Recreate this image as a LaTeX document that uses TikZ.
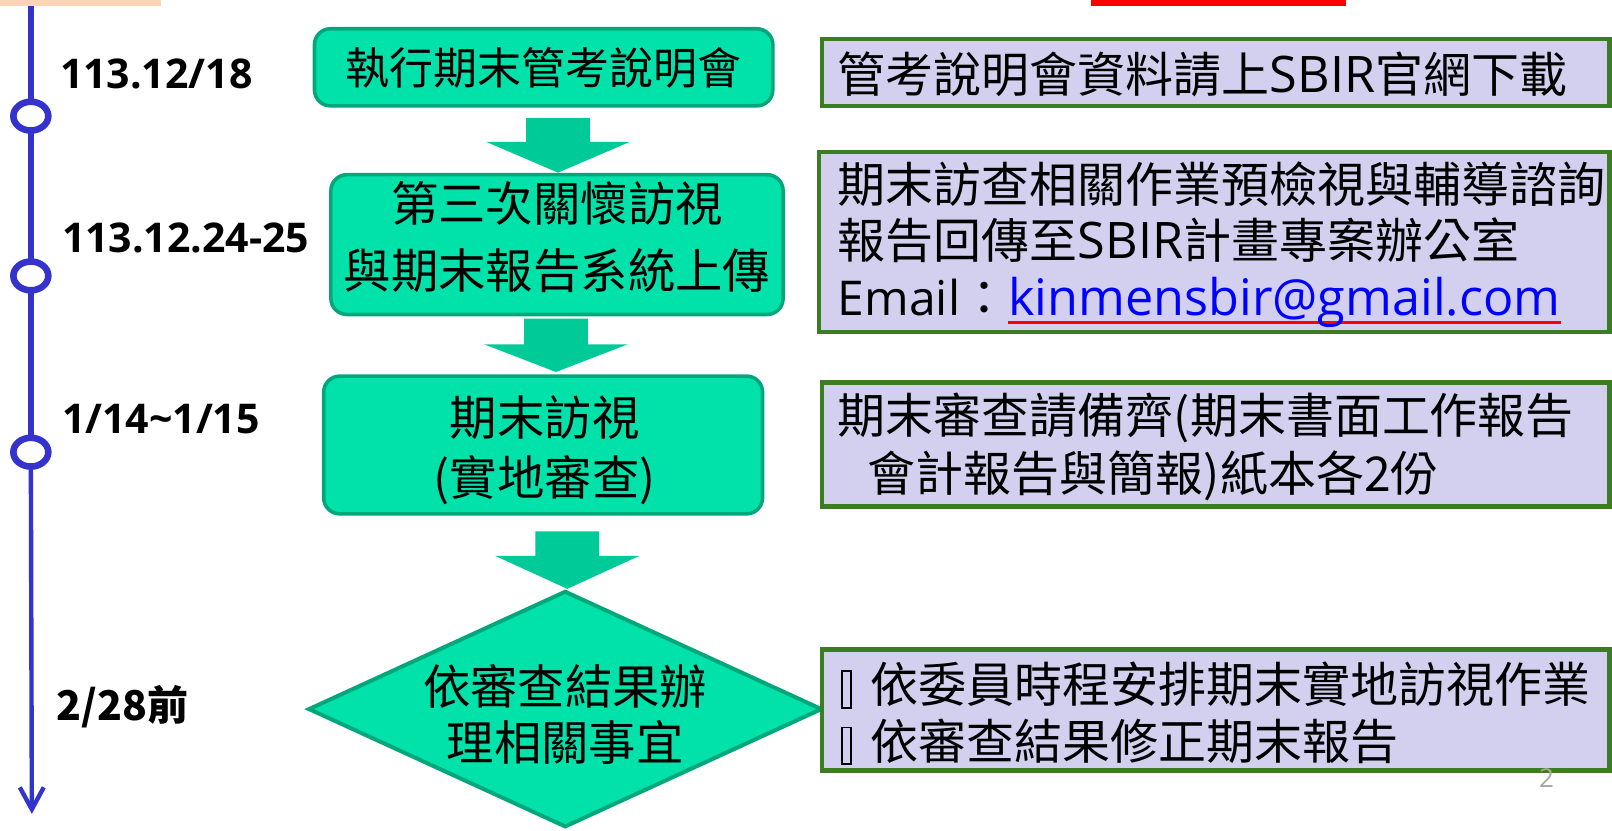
\documentclass[tikz,border=0pt]{standalone}
\usepackage{fontspec}
\setmainfont{Noto Sans CJK TC}
\newfontfamily\lat{Open Sans}
\newfontfamily\latr[Scale=1.05]{Open Sans}
\usetikzlibrary{arrows.meta,backgrounds,shapes.geometric}
\def\PX{0.514pt}
\definecolor{gfill}{HTML}{00E2AA}
\definecolor{gline}{HTML}{00A77B}
\definecolor{garrow}{HTML}{00CA98}
\definecolor{lav}{HTML}{D2D0EE}
\definecolor{rline}{HTML}{3C7D24}
\definecolor{tblue}{HTML}{3434CC}
\definecolor{peach}{HTML}{FBD5B5}
\newlength\ulw
\newcommand\redul[1]{\settowidth\ulw{#1}\rlap{\color{red}\rule[-4.5pt]{\ulw}{1.5pt}}#1}
\newcommand\tofu{\hspace*{1.5pt}\raisebox{-2pt}{\setlength\fboxrule{0.9pt}\setlength\fboxsep{0pt}\fbox{\rule{0pt}{17.5pt}\hspace{3.6pt}}}\hspace{9.5pt}}
\newcommand\blockarrow[4]{%
  \fill[garrow] (#1-31,#2) -- (#1+31,#2) -- (#1+31,#3) -- (#1+70,#3) -- (#1,#4) -- (#1-70,#3) -- (#1-31,#3) -- cycle;}
\begin{document}
\begin{tikzpicture}[x=0.514pt,y=-0.514pt,
  gbox/.style={draw=gline, line width=1.8pt, fill=gfill, rounded corners=8pt, inner sep=0pt, align=center},
  gtext/.style={align=center, inner sep=0pt},
  rbox/.style={draw=rline, line width=2.3pt, fill=lav, inner sep=0pt},
  rtext/.style={anchor=west, align=left, inner sep=0pt, font=\fontsize{24}{28.3}\selectfont},
  datel/.style={anchor=west, inner sep=0pt, font=\lat\bfseries\fontsize{20.5}{24}\selectfont},
  tcirc/.style={ellipse, draw=tblue, line width=3.3pt, fill=white, minimum width=34*\PX, minimum height=28*\PX, inner sep=0pt},
]
\useasboundingbox (0,0) rectangle (1568.6,807.7);

% top strips
\fill[peach] (0,0) rectangle (157,5.5);
\fill[red] (1062,0) rectangle (1310,5.5);

% timeline
\coordinate (t0) at (30,0);
\coordinate (tend) at (31,792);
\node[tcirc] (c1) at (30,113) {};
\node[tcirc] (c2) at (30,268.5) {};
\node[tcirc] (c3) at (30,440) {};
\begin{scope}[on background layer]
\draw[tblue, line width=2.7pt] (t0) -- (c1.center) -- (c2.center) -- (c3.center);
\draw[tblue, line width=2.2pt, -{Straight Barb[length=11pt,width=12pt]}] (c3.center) -- (tend);
\end{scope}

% dates
\node[datel] (d1) at (58,72) {113.12/18};
\node[datel] (d2) at (60,232) {113.12.24-25};
\node[datel] (d3) at (60,408) {1/14\string~1/15};
\node[anchor=west, inner sep=0pt, font=\bfseries\fontsize{20.5}{24}\selectfont] (d4) at (55,688) {2/28前};

% flow boxes
\node[gbox, minimum width=446*\PX, minimum height=75*\PX] (b1) at (529,65.5) {};
\node[gtext, font=\fontsize{22}{27}\selectfont] (b1t) at (b1) {執行期末管考說明會};
\node[gbox, minimum width=440*\PX, minimum height=136*\PX] (b2) at (542,238) {};
\node[gtext, font=\fontsize{23.7}{33.4}\selectfont] (b2t) at (542,231) {第三次關懷訪視\\與期末報告系統上傳};
\node[gbox, minimum width=427*\PX, minimum height=134*\PX] (b3) at (528.5,433) {};
\node[gtext, font=\fontsize{23.7}{30.3}\selectfont] (b3t) at (530,438) {期末訪視\\(實地審查)};
\node[diamond, draw=gline, line width=2pt, fill=gfill, minimum width=500*\PX, minimum height=230*\PX, inner sep=0pt] (d) at (550,690) {};
\node[gtext, font=\fontsize{23.7}{27.8}\selectfont] (dt) at (550,695) {依審查結果辦\\理相關事宜};

% block arrows
\blockarrow{543}{115}{138}{168}
\blockarrow{541}{310}{335}{362}
\blockarrow{552}{517}{541}{573}

% right boxes
\node[rbox, minimum width=766*\PX, minimum height=65*\PX] (r1) at (1183,70.5) {};
\node[rtext] (r1t) at (815,72) {管考說明會資料請上{\latr SBIR}官網下載};
\node[rbox, minimum width=769*\PX, minimum height=175*\PX] (r2) at (1181.5,235.5) {};
\node[rtext] (r2t) at (815,238) {期末訪查相關作業預檢視與輔導諮詢\\報告回傳至{\latr SBIR}計畫專案辦公室\\{\lat Email}：\redul{\latr\color{blue}kinmensbir@gmail.com}};
\node[rbox, minimum width=766*\PX, minimum height=121*\PX] (r3) at (1183,432.5) {};
\node[rtext, font=\fontsize{24}{28.8}\selectfont] (r3t) at (815,435) {期末審查請備齊(期末書面工作報告\\\hspace*{15pt}會計報告與簡報)紙本各2份};
\node[rbox, minimum width=766*\PX, minimum height=118*\PX] (r4) at (1183,691) {};
\node[rtext] (r4t) at (815,694.5) {\tofu 依委員時程安排期末實地訪視作業\\\tofu 依審查結果修正期末報告};

% page number
\node[text=gray!70, inner sep=0pt, font=\lat\fontsize{13}{15}\selectfont] (pg) at (1505,757) {2};
\end{tikzpicture}
\end{document}
